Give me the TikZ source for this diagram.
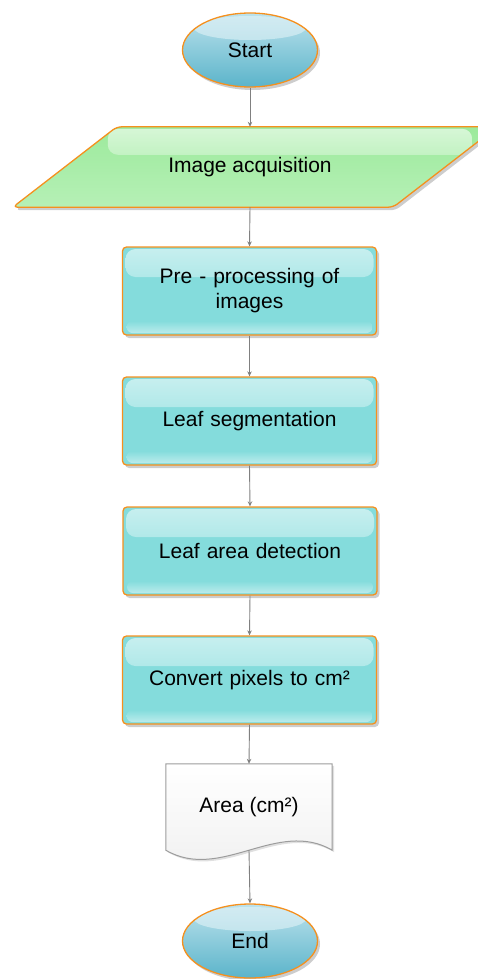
\documentclass[tikz,border=0pt]{standalone}
\usepackage{fontspec}
\setmainfont{Liberation Sans}
\usetikzlibrary{shapes.geometric,shadows,arrows.meta,calc,backgrounds}

\definecolor{edgeorange}{HTML}{F5901E}
\definecolor{cyanfill}{HTML}{84DCDC}
\definecolor{termtop}{HTML}{BCE2EC}
\definecolor{termbot}{HTML}{5BB4CA}
\definecolor{greenfill}{HTML}{9CEA9C}
\definecolor{greenlow}{HTML}{B6F0B6}
\definecolor{linkgray}{HTML}{808080}
\definecolor{docedge}{HTML}{9C9C9C}
\definecolor{docfill}{HTML}{EFEFEF}

\begin{document}
\begin{tikzpicture}[x=1pt,y=-1pt,
  font=\fontsize{21}{25}\selectfont,
  softshadow/.style={drop shadow={shadow xshift=2.5pt,shadow yshift=-3pt,opacity=0.28,fill=black!70}},
  terminal/.style={ellipse, minimum width=135, minimum height=74, inner sep=0pt,
    draw=edgeorange, line width=1.3pt, top color=termtop, bottom color=termbot, softshadow,
    path picture={
      \shade[top color=white!45!termtop, bottom color=termtop, opacity=0.8]
        ($(path picture bounding box.north)+(0,15)$) ellipse [x radius=56, y radius=12];
    }},
  procbox/.style={rectangle, rounded corners=4pt, minimum width=254, minimum height=88,
    draw=edgeorange, line width=1.3pt, fill=cyanfill, softshadow,
    align=center, text width=236,
    path picture={
      \shade[top color=white!55!cyanfill, bottom color=cyanfill, rounded corners=10pt]
        ($(path picture bounding box.north west)+(3,2)$) rectangle
        ($(path picture bounding box.north east)+(-3,30)$);
      \shade[top color=cyanfill, bottom color=white!45!cyanfill, rounded corners=6pt]
        ($(path picture bounding box.south west)+(4,-14)$) rectangle
        ($(path picture bounding box.south east)+(-4,-2)$);
    }},
  inputbox/.style={rounded corners=5pt, draw=edgeorange, line width=1.3pt,
    top color=greenfill, bottom color=greenlow, softshadow,
    path picture={
      \shade[top color=white!60!greenfill, bottom color=greenfill, rounded corners=10pt]
        ($(path picture bounding box.north west)+(95,2)$) rectangle
        ($(path picture bounding box.north east)+(-25,28)$);
    }},
  docbox/.style={draw=docedge, line width=1pt, top color=white, bottom color=docfill,
    drop shadow={shadow xshift=2pt,shadow yshift=-2pt,opacity=0.2,fill=black!60}},
  link/.style={draw=linkgray, line width=0.9pt, -{Stealth[length=5pt,width=4.5pt]}}
]
\useasboundingbox (0,0) rectangle (477,979);

% terminals, steps and output
\node[terminal] (start) at (250,50) {Start};
\node[minimum width=380, minimum height=80, inner sep=0pt] (acq) at (250,167) {Image acquisition};
\node[procbox] (pre)  at (249.5,291) {Pre - processing of\\images};
\node[procbox] (seg)  at (249.5,421) {Leaf segmentation};
\node[procbox] (det)  at (250,551)   {Leaf area detection};
\node[procbox] (conv) at (249.5,680) {Convert pixels to cm²};
\node[minimum width=166, minimum height=86, inner sep=0pt] (area) at (249,807) {Area (cm²)};
\node[terminal] (finish) at (250,941) {End};

\begin{scope}[on background layer]
  % slanted input/output shape behind its text
  \path[inputbox] ($(acq.south west)+(-47,0)$) -- ($(acq.south east)+(-47,0)$)
    -- ($(acq.north east)+(57,0)$) -- ($(acq.north west)+(57,0)$) -- cycle;
  % document outline with wavy lower edge
  \path[docbox] (area.north west) -- (area.north east) -- (area.south east)
    .. controls +(-55,-32) and +(55,32) .. (area.south west) -- cycle;
\end{scope}

% connectors
\draw[link] (start.south) -- (acq.north);
\draw[link] (acq.south) -- (pre.north);
\draw[link] (pre.south) -- (seg.north);
\draw[link] (seg.south) -- (det.north);
\draw[link] (det.south) -- (conv.north);
\draw[link] (conv.south) -- (area.north);
\draw[link] (area.south) -- (finish.north);
\end{tikzpicture}
\end{document}
